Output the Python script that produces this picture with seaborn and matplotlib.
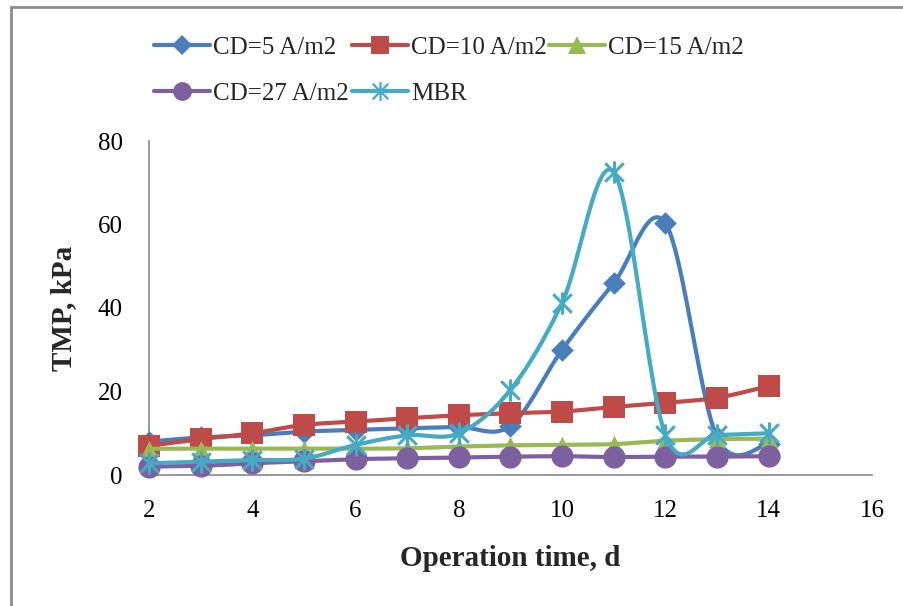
import numpy as np
import pandas as pd
import seaborn as sns
import matplotlib
matplotlib.use("Agg")
import matplotlib.pyplot as plt
from matplotlib.path import Path
from matplotlib.lines import Line2D

# ---- data ----
days = [2, 3, 4, 5, 6, 7, 8, 9, 10, 11, 12, 13, 14]
cd5 = [8.0, 9.0, 9.5, 10.4, 10.8, 11.2, 11.5, 11.8, 30.0, 46.0, 60.3, 9.0, 7.5]
cd10 = [7.0, 8.6, 10.0, 12.0, 12.8, 13.6, 14.3, 14.8, 15.2, 16.3, 17.3, 18.5, 21.3]
cd15 = [6.3, 6.3, 6.3, 6.3, 6.3, 6.4, 6.8, 7.1, 7.2, 7.4, 8.2, 8.6, 8.7]
cd27 = [2.0, 2.2, 2.8, 3.3, 3.8, 4.0, 4.2, 4.4, 4.5, 4.3, 4.4, 4.4, 4.5]
mbr = [2.8, 3.2, 3.6, 3.9, 7.2, 9.5, 10.0, 20.4, 41.3, 72.5, 9.6, 9.6, 10.0]

labels = ["CD=5 A/m2", "CD=10 A/m2", "CD=15 A/m2", "CD=27 A/m2", "MBR"]
series = [cd5, cd10, cd15, cd27, mbr]
colors = ["#4A7EBB", "#BE4B48", "#98B954", "#7D60A0", "#46AAC5"]
xticks = [2, 4, 6, 8, 10, 12, 14, 16]
yticks = [0, 20, 40, 60, 80]

# asterisk marker (X plus vertical stroke)
star = Path([(-1, -1), (1, 1), (-1, 1), (1, -1), (0, -1.2), (0, 1.2)],
            [Path.MOVETO, Path.LINETO, Path.MOVETO, Path.LINETO, Path.MOVETO, Path.LINETO])
markers = ["D", "s", "^", "o", star]
msizes = [11.5, 15.5, 12.5, 16, 16]
leg_msizes = [10, 13, 13, 13.5, 13.5]


def smooth(xs, ys, n=40):
    """Excel-style smoothed line (cubic Bezier, Catmull-Rom control points)."""
    P = np.column_stack([xs, ys]).astype(float)
    E = np.vstack([P[0], P, P[-1]])
    out = []
    t = np.linspace(0, 1, n)[:, None]
    for i in range(len(P) - 1):
        p0, p1, p2, p3 = E[i], E[i + 1], E[i + 2], E[i + 3]
        c1 = p1 + (p2 - p0) / 6
        c2 = p2 - (p3 - p1) / 6
        seg = (1 - t) ** 3 * p1 + 3 * (1 - t) ** 2 * t * c1 + 3 * (1 - t) * t ** 2 * c2 + t ** 3 * p2
        out.append(seg if i == 0 else seg[1:])
    return np.vstack(out)


sns.set_theme(style="white")
plt.rcParams["font.family"] = ["Liberation Serif", "DejaVu Serif"]

W, H = 904, 606
fig = plt.figure(figsize=(W / 100, H / 100), dpi=100)
x0, x1, yb, yt = 149, 872, 475, 141
ax = fig.add_axes([x0 / W, 1 - yb / H, (x1 - x0) / W, (yb - yt) / H])

LW = 3.0
for i, (lab, vals, c, m, ms) in enumerate(zip(labels, series, colors, markers, msizes)):
    curve = smooth(days, vals)
    dfc = pd.DataFrame({"x": curve[:, 0], "y": curve[:, 1]})
    sns.lineplot(data=dfc, x="x", y="y", sort=False, estimator=None, color=c,
                 lw=LW, ax=ax, legend=False, zorder=3 + i)
    dfp = pd.DataFrame({"x": days, "y": vals})
    if m is star:
        sns.scatterplot(data=dfp, x="x", y="y", marker=m, s=ms ** 2, color=c,
                        edgecolor=c, linewidth=2.2, ax=ax, legend=False,
                        zorder=3.5 + i, clip_on=False)
    else:
        sns.scatterplot(data=dfp, x="x", y="y", marker=m, s=ms ** 2, color=c,
                        edgecolor=c, linewidth=0, ax=ax, legend=False,
                        zorder=3.5 + i, clip_on=False)

ax.set_xlim(2, 16)
ax.set_ylim(0, 80)
ax.set_xticks(xticks)
ax.set_yticks(yticks)
ax.tick_params(axis="both", which="major", direction="out", length=7, width=1,
               color="#888888", labelsize=18, labelcolor="black")
ax.tick_params(axis="y", pad=12)
ax.tick_params(axis="x", pad=11)
for s in ["top", "right"]:
    ax.spines[s].set_visible(False)
for s in ["left", "bottom"]:
    ax.spines[s].set_color("#888888")
    ax.spines[s].set_linewidth(1.2)
ax.grid(False)

ax.set_xlabel("Operation time, d", fontsize=21, fontweight="bold")
ax.set_ylabel("TMP, kPa", fontsize=21, fontweight="bold")
ax.xaxis.set_label_coords(0.5, -0.21)
ax.yaxis.set_label_coords(-0.1, 0.5)

handles = []
for lab, c, m, ms in zip(labels, colors, markers, leg_msizes):
    if m is star:
        h = Line2D([], [], color=c, lw=LW, marker=m, markersize=ms,
                   markeredgecolor=c, markeredgewidth=1.6)
    else:
        h = Line2D([], [], color=c, lw=LW, marker=m, markersize=ms,
                   markeredgewidth=0, markerfacecolor=c)
    handles.append(h)

# row-wise order for a 3-column legend (matplotlib fills by column)
order = [0, 3, 1, 4, 2]
fig.legend([handles[k] for k in order], [labels[k] for k in order], ncol=3,
           loc="upper left", bbox_to_anchor=(154 / W, 1 - 36 / H), frameon=False,
           fontsize=18, handlelength=2.25, handletextpad=0.12, columnspacing=0.1,
           labelspacing=0.95, borderaxespad=0, borderpad=0, numpoints=1)

# outer frame (only left and top edges visible in the reference)
fig.add_artist(Line2D([11 / W, 11 / W], [0, 1 - 7 / H], transform=fig.transFigure,
                      color="#8C8C8C", lw=2.0))
fig.add_artist(Line2D([11 / W, 1], [1 - 7 / H, 1 - 7 / H], transform=fig.transFigure,
                      color="#8C8C8C", lw=2.0))

fig.savefig("out.png", dpi=100)
